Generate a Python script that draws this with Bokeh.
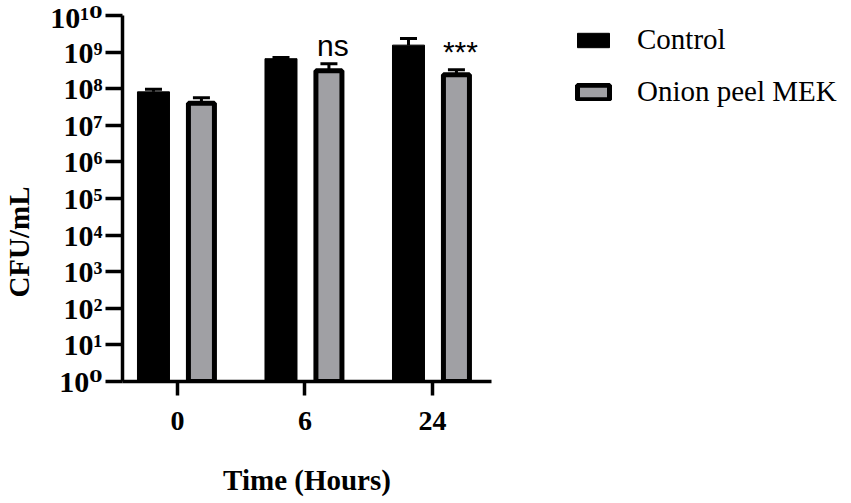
from bokeh.plotting import figure
from bokeh.models import Range1d, FixedTicker, Whisker, TeeHead, ColumnDataSource, Legend, LegendItem
from bokeh.core.properties import value
from bokeh.embed import file_html
from bokeh.resources import INLINE

# ---- data ----
time_labels = ["0", "6", "24"]
control_mean = [8.2e7, 6.6e8, 1.55e9]
control_err = [1.5e7, 0.55e8, 0.8e9]
mek_mean = [4.0e7, 3.1e8, 2.4e8]
mek_err = [1.7e7, 1.7e8, 0.9e8]
sig_labels = ["", "ns", "***"]
series_names = ["Control", "Onion peel MEK"]
y_tick_values = [10 ** i for i in range(11)]
y_tick_labels = ["10\u2070", "10\u00b9", "10\u00b2", "10\u00b3", "10\u2074", "10\u2075",
                 "10\u2076", "10\u2077", "10\u2078", "10\u2079", "10\u00b9\u2070"]

# ---- layout ----
grp = list(range(len(time_labels)))
off = 0.188
ctrl_x = [g - off for g in grp]
mek_x = [g + off for g in grp]

p = figure(frame_width=369, frame_height=366,
           x_range=Range1d(-0.431, 2.463), y_range=Range1d(1, 1e10),
           y_axis_type="log", output_backend="svg", toolbar_location=None,
           min_border_left=114, min_border_right=352, min_border_top=15, min_border_bottom=106)
p.outline_line_color = None
p.grid.grid_line_color = None
p.background_fill_color = "white"

ctrl_src = ColumnDataSource(dict(x=ctrl_x, top=control_mean,
                                 upper=[m + e for m, e in zip(control_mean, control_err)],
                                 lower=control_mean))
mek_src = ColumnDataSource(dict(x=mek_x, top=mek_mean,
                                upper=[m + e for m, e in zip(mek_mean, mek_err)],
                                lower=mek_mean))

r1 = p.vbar(x="x", top="top", bottom=1, width=0.251, source=ctrl_src,
            fill_color="black", line_color="black", line_width=1)
r2 = p.vbar(x="x", top="top", bottom=1, width=0.204, source=mek_src,
            fill_color="#a0a0a4", line_color="black", line_width=5)

for src in (ctrl_src, mek_src):
    w = Whisker(base="x", upper="upper", lower="lower", source=src,
                upper_head=TeeHead(size=17, line_width=3, line_color="black"),
                lower_head=None, line_width=3, line_color="black", level="underlay")
    p.add_layout(w)

# significance labels
sx, sy, st = [], [], []
for i, s in enumerate(sig_labels):
    if s:
        sx.append(mek_x[i])
        sy.append(mek_mean[i] + mek_err[i])
        st.append(s)
p.text(x=sx, y=sy, text=st, text_font=value("Liberation Sans"), text_font_size="30px",
       text_align="center", text_baseline="alphabetic", x_offset=4, y_offset=-18,
       text_color="black")

# axes
yax = p.yaxis[0]
yax.ticker = FixedTicker(ticks=y_tick_values, minor_ticks=[])
yax.major_label_overrides = {v: l for v, l in zip(y_tick_values, y_tick_labels)}
xax = p.xaxis[0]
xax.ticker = FixedTicker(ticks=grp, minor_ticks=[])
xax.major_label_overrides = {g: l for g, l in zip(grp, time_labels)}

for ax in (xax, yax):
    ax.axis_line_width = 3.5
    ax.axis_line_color = "black"
    ax.major_tick_line_width = 3.5
    ax.major_tick_line_color = "black"
    ax.major_tick_in = 0
    ax.minor_tick_line_color = None
    ax.major_label_text_font = "Liberation Serif, DejaVu Serif"
    ax.major_label_text_font_style = "bold"
    ax.major_label_text_color = "black"
    ax.axis_label_text_font = "Liberation Serif"
    ax.axis_label_text_font_style = "bold"
    ax.axis_label_text_font_size = "29px"
    ax.axis_label_text_color = "black"

yax.major_tick_out = 17
yax.major_label_standoff = 3
yax.major_label_text_font_size = "30px"
yax.axis_label = "CFU/mL" + "\u00a0" * 12
yax.axis_label_standoff = 12

xax.major_tick_out = 14
xax.major_label_standoff = 16
xax.major_label_text_font_size = "28px"
xax.axis_label = "Time (Hours)"
xax.axis_label_standoff = 31

legend = Legend(items=[LegendItem(label=series_names[0], renderers=[r1]),
                       LegendItem(label=series_names[1], renderers=[r2])],
                location=(82, 273), orientation="vertical",
                glyph_width=40, glyph_height=18, label_standoff=24,
                label_text_font="Liberation Serif", label_text_font_size="29px",
                label_text_color="black", spacing=19, padding=0, margin=0,
                border_line_color=None, background_fill_alpha=0)
p.add_layout(legend, "right")

open("out.html", "w").write(file_html(p, INLINE))
